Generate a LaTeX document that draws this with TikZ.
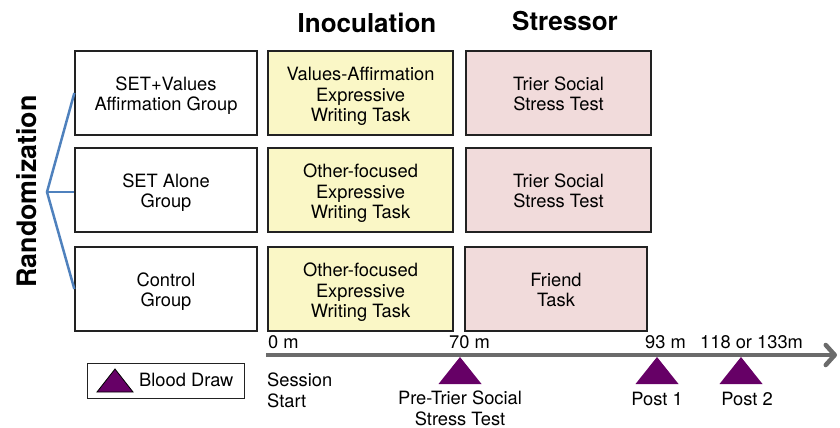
\documentclass[tikz,border=0pt]{standalone}
\usepackage{fontspec}
\setmainfont{TeX Gyre Heros}
\usetikzlibrary{arrows.meta}
\definecolor{yellowfill}{HTML}{FAF7C6}
\definecolor{pinkfill}{HTML}{F1DBDB}
\definecolor{boxline}{HTML}{222222}
\definecolor{randblue}{HTML}{4F81BD}
\definecolor{tlgray}{HTML}{6B6B6B}
\definecolor{drawpurple}{HTML}{660066}
\newcommand{\bodyfont}{\fontsize{18.3}{20.5}\selectfont}
\newcommand{\titlefont}{\fontsize{26}{30}\selectfont\bfseries}
\tikzset{
  basebox/.style={draw=boxline, line width=1.3pt, align=center, inner sep=0pt,
    minimum height=84pt, font=\bodyfont, text depth=0pt, text height=35.7pt},
  grpbox/.style={basebox, fill=white, minimum width=182pt},
  inocbox/.style={basebox, fill=yellowfill, minimum width=185pt, text height=57.2pt},
  stressbox/.style={basebox, fill=pinkfill, minimum width=185pt},
  randline/.style={draw=randblue, line width=2.5pt},
  timeline/.style={draw=tlgray, line width=4.5pt, -{Straight Barb[length=9pt,width=20pt,round]}},
  tlabel/.style={anchor=base west, inner sep=0pt, font=\bodyfont},
  clabel/.style={anchor=base, inner sep=0pt, font=\bodyfont, align=center},
  bloodtri/.style={fill=drawpurple},
}
\begin{document}
\begin{tikzpicture}[x=1pt,y=-1pt]
\useasboundingbox (0,0) rectangle (840,428);

% titles
\node[anchor=base, inner sep=0pt, font=\titlefont] (tinoc) at (367,33) {Inoculation};
\node[anchor=base, inner sep=0pt, font=\titlefont] (tstress) at (565,31) {Stressor};
\node[anchor=base, inner sep=0pt, rotate=90, font=\fontsize{26.8}{30}\selectfont\bfseries] (trand) at (36,191.5) {Randomization};

% group boxes
\node[grpbox] (g1) at (166,93) {SET+Values\\Affirmation Group};
\node[grpbox] (g2) at (166,190) {SET Alone\\Group};
\node[grpbox] (g3) at (166,289) {Control\\Group};

% inoculation boxes
\node[inocbox] (i1) at (360.5,93) {Values-Affirmation\\Expressive\\Writing Task};
\node[inocbox] (i2) at (360.5,190) {Other-focused\\Expressive\\Writing Task};
\node[inocbox] (i3) at (360.5,289) {Other-focused\\Expressive\\Writing Task};

% stressor boxes
\node[stressbox] (s1) at (558.5,93) {Trier Social\\Stress Test};
\node[stressbox] (s2) at (558.5,190) {Trier Social\\Stress Test};
\node[stressbox, minimum width=182pt] (s3) at (556,289) {Friend\\Task};

% randomization lines
\coordinate (rroot) at (47,192);
\draw[randline] (g1.west) -- (rroot) -- (g3.west);
\draw[randline] (rroot) -- (g2.west |- rroot);

% timeline
\coordinate (tstart) at (266,355);
\coordinate (tend) at (837,355);
\draw[timeline] (tstart) -- (tend);

\node[tlabel] (l0) at (268,348) {0 m};
\node[tlabel] (l70) at (449,348) {70 m};
\node[tlabel] (l93) at (645,348) {93 m};
\node[tlabel] (l118) at (700,348) {118 or 133m};

% blood draw triangles
\coordinate (d70) at (460,357);
\coordinate (d93) at (657,357);
\coordinate (d118) at (741,357);
\fill[bloodtri] (d70) -- ++(-21.5,27) -- ++(43,0) -- cycle;
\fill[bloodtri] (d93) -- ++(-21.5,27) -- ++(43,0) -- cycle;
\fill[bloodtri] (d118) -- ++(-21.5,27) -- ++(43,0) -- cycle;

\node[tlabel, align=left] (lstart) at (267,407) {Session\\Start};
\node[clabel] (lpre) at (460,425) {Pre-Trier Social\\Stress Test};
\node[clabel] (lp1) at (657,405) {Post 1};
\node[clabel] (lp2) at (747,405) {Post 2};

% legend
\node[draw=boxline, line width=1pt, fill=white, minimum width=157pt, minimum height=35pt, inner sep=0pt] (legend) at (165.5,380.5) {};
\coordinate (legtri) at (115,369);
\draw[fill=drawpurple, draw=black, line width=0.8pt] (legtri) -- ++(-18,23) -- ++(36,0) -- cycle;
\node[anchor=base west, inner sep=0pt, font=\bodyfont] (legtext) at (139,386.5) {Blood Draw};
\end{tikzpicture}
\end{document}
